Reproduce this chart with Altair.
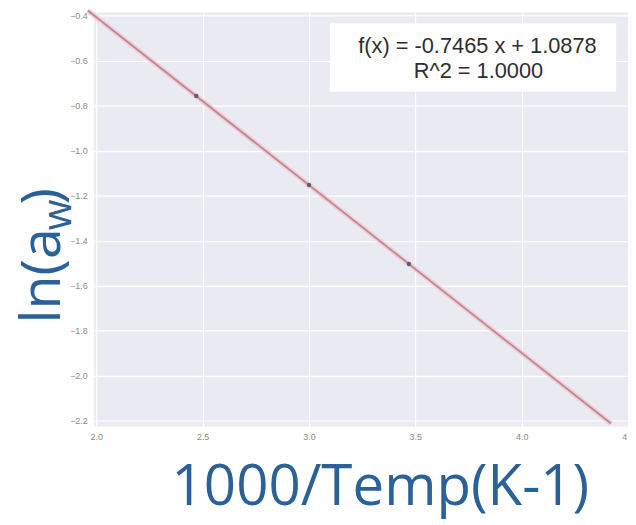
import altair as alt
import pandas as pd

# ---- data ----
x_pts = [2.47, 3.00, 3.47]
y_pts = [-0.756, -1.152, -1.503]
fit_x = [1.96, 4.42]
fit_y = [-0.376, -2.212]
x_ticks = [2.0, 2.5, 3.0, 3.5, 4.0, 4.5]
y_ticks = [-0.4, -0.6, -0.8, -1.0, -1.2, -1.4, -1.6, -1.8, -2.0, -2.2]
eq_lines = ["f(x) = -0.7465 x + 1.0878", "R^2 = 1.0000"]
x_title = "1000/Temp(K-1)"
y_title_parts = ["ln(a", "w", ")"]

TITLE_COLOR = "#2A6199"
W, H = 539, 418

pts = pd.DataFrame({"x": x_pts, "y": y_pts})
fit = pd.DataFrame({"x": fit_x, "y": fit_y})

xs = alt.Scale(domain=[1.99, 4.5], nice=False, zero=False)
ys = alt.Scale(domain=[-2.225, -0.385], nice=False, zero=False)

xax = alt.Axis(values=x_ticks, format=".1f", title=None, domain=False, ticks=False,
               labelColor="#8a8a8a", labelFontSize=9, labelPadding=6,
               gridColor="white", gridWidth=1.2, labelFlush=False)
yax = alt.Axis(values=y_ticks, format=".1f", title=None, domain=False, ticks=False,
               labelColor="#8a8a8a", labelFontSize=9, labelPadding=7,
               gridColor="white", gridWidth=1.2)

base_x = alt.X("x:Q", scale=xs, axis=xax)
base_y = alt.Y("y:Q", scale=ys, axis=yax)

halo = alt.Chart(fit).mark_line(color="#F4CDD4", strokeWidth=5, clip=False).encode(x=base_x, y=base_y)
line = alt.Chart(fit).mark_line(color="#BC8A96", strokeWidth=1.8, clip=False).encode(x="x:Q", y="y:Q")
dots = alt.Chart(pts).mark_point(filled=True, color="#555270", size=20, opacity=0.9).encode(x="x:Q", y="y:Q")

box = alt.Chart(pd.DataFrame({"k": [0]})).mark_rect(color="white", opacity=0.95).encode(
    x=alt.value(238), x2=alt.value(527), y=alt.value(11), y2=alt.value(80))

eq_df = pd.DataFrame({"t": eq_lines, "i": [0, 1]})
eq1 = alt.Chart(eq_df.iloc[[0]]).mark_text(font="Liberation Sans", fontSize=22, color="#2e2e2e",
                                           align="center", baseline="alphabetic").encode(
    text="t:N", x=alt.value(387), y=alt.value(41))
eq2 = alt.Chart(eq_df.iloc[[1]]).mark_text(font="Liberation Sans", fontSize=22, color="#2e2e2e",
                                           align="center", baseline="alphabetic").encode(
    text="t:N", x=alt.value(388), y=alt.value(66))

xt = alt.Chart(pd.DataFrame({"t": [x_title]})).mark_text(font="Open Sans", fontSize=57, color=TITLE_COLOR,
                                                        align="center", baseline="alphabetic").encode(
    text="t:N", x=alt.value(289), y=alt.value(497))

yt1 = alt.Chart(pd.DataFrame({"t": [y_title_parts[0]]})).mark_text(
    font="Open Sans", fontSize=56, color=TITLE_COLOR, angle=270, align="left", baseline="alphabetic").encode(
    text="t:N", x=alt.value(-35), y=alt.value(314))
yt2 = alt.Chart(pd.DataFrame({"t": [y_title_parts[1]]})).mark_text(
    font="Open Sans", fontSize=40, color=TITLE_COLOR, angle=270, align="left", baseline="alphabetic").encode(
    text="t:N", x=alt.value(-23), y=alt.value(220))
yt3 = alt.Chart(pd.DataFrame({"t": [y_title_parts[2]]})).mark_text(
    font="Open Sans", fontSize=56, color=TITLE_COLOR, angle=270, align="left", baseline="alphabetic").encode(
    text="t:N", x=alt.value(-35), y=alt.value(194))

chart = alt.layer(halo, line, dots, box, eq1, eq2, xt, yt1, yt2, yt3).properties(
    width=W, height=H,
    autosize=alt.AutoSizeParams(type="none"),
    padding={"left": 87, "top": 2, "right": 0, "bottom": 97},
    background="white",
).configure_view(fill="#EAEAF2", stroke=None).configure_axis(labelFont="Liberation Sans")

chart.save("out.html", embed_options={"renderer": "svg", "actions": False})
